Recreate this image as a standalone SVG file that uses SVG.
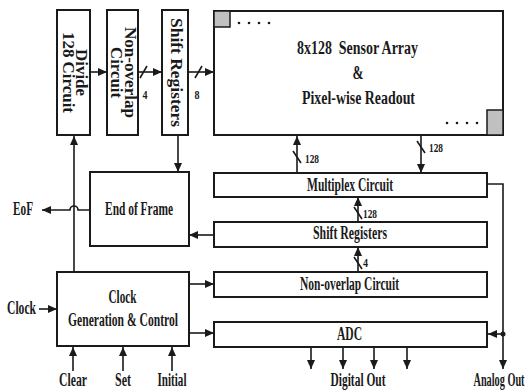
<svg xmlns="http://www.w3.org/2000/svg" width="532" height="392" viewBox="0 0 532 392">
<style>
.box{fill:#fff;stroke:#1a1a1a;stroke-width:2}
.ln{fill:none;stroke:#1a1a1a;stroke-width:1.6}
.arr{marker-end:url(#ah)}
text{font-family:"Liberation Serif","Times New Roman",serif;font-weight:bold;fill:#1a1a1a}
.t{font-size:18.5px;text-anchor:middle}
.v{font-size:16px;text-anchor:middle}
.s{font-size:13px}
.g{fill:#c0c0c0;stroke:#1a1a1a;stroke-width:1.5}
</style>
<defs>
<marker id="ah" markerUnits="userSpaceOnUse" markerWidth="10" markerHeight="8" refX="9" refY="4" orient="auto">
<path d="M0,0 L9,4 L0,8 Z" fill="#1a1a1a"/>
</marker>
</defs>
<g id="connectors">
<path class="ln arr" d="M90,72 H107"/>
<path class="ln arr" d="M138,72 H162"/>
<path class="ln" d="M140,78 L147,66"/>
<path class="ln arr" d="M188,72 H214"/>
<path class="ln" d="M195,78 L202,66"/>
<path class="ln arr" d="M178,135 V172"/>
<path class="ln arr" d="M74,272 V136"/>
<path class="ln arr" d="M90,210 H78 A4,4 0 0 0 70,210 H42"/>
<path class="ln arr" d="M214,235 H189"/>
<path class="ln arr" d="M189,284 H214"/>
<path class="ln arr" d="M189,333 H214"/>
<path class="ln arr" d="M39,309 H57"/>
<path class="ln arr" d="M73,371 V347"/>
<path class="ln arr" d="M123,371 V347"/>
<path class="ln arr" d="M172,371 V347"/>
<path class="ln arr" d="M297,173 V136"/>
<path class="ln" d="M293,151 L301,163"/>
<path class="ln arr" d="M421,136 V173"/>
<path class="ln" d="M417,141 L425,153"/>
<path class="ln arr" d="M358,222 V197"/>
<path class="ln" d="M354,207 L362,219"/>
<path class="ln arr" d="M358,272 V247"/>
<path class="ln" d="M354,257 L362,269"/>
<path class="ln arr" d="M487,184 H503 V369"/>
<circle cx="503" cy="334" r="2.5" fill="#1a1a1a"/>
<path class="ln arr" d="M503,334 H488"/>
<path class="ln arr" d="M311,347 V369"/>
<path class="ln arr" d="M343,347 V369"/>
<path class="ln arr" d="M374,347 V369"/>
<path class="ln arr" d="M407,347 V369"/>
<text class="s" x="145" y="99" text-anchor="middle" textLength="5" lengthAdjust="spacingAndGlyphs">4</text>
<text class="s" x="197" y="99" text-anchor="middle" textLength="5" lengthAdjust="spacingAndGlyphs">8</text>
<text class="s" x="305" y="163" textLength="14" lengthAdjust="spacingAndGlyphs">128</text>
<text class="s" x="429" y="152" textLength="14" lengthAdjust="spacingAndGlyphs">128</text>
<text class="s" x="363" y="218" textLength="14" lengthAdjust="spacingAndGlyphs">128</text>
<text class="s" x="363" y="267" textLength="5" lengthAdjust="spacingAndGlyphs">4</text>
<text class="t" x="23" y="215" textLength="20" lengthAdjust="spacingAndGlyphs">EoF</text>
<text class="t" x="21.5" y="314" textLength="29" lengthAdjust="spacingAndGlyphs">Clock</text>
<text class="t" x="73" y="386" textLength="28" lengthAdjust="spacingAndGlyphs">Clear</text>
<text class="t" x="123" y="386" textLength="16" lengthAdjust="spacingAndGlyphs">Set</text>
<text class="t" x="172" y="386" textLength="29" lengthAdjust="spacingAndGlyphs">Initial</text>
<text class="t" x="358" y="386" textLength="55" lengthAdjust="spacingAndGlyphs">Digital Out</text>
<text class="t" x="499" y="386" font-size="16" textLength="51" lengthAdjust="spacingAndGlyphs">Analog Out</text>
</g>
<g id="divide">
<rect class="box" x="57" y="10" width="33" height="125"/>
<text class="v" transform="translate(76,72.5) rotate(90)" textLength="47" lengthAdjust="spacingAndGlyphs">Divide</text>
<text class="v" transform="translate(63,72.5) rotate(90)" textLength="81" lengthAdjust="spacingAndGlyphs">128 Circuit</text>
</g>
<g id="nonoverlap-v">
<rect class="box" x="107" y="10" width="31" height="125"/>
<text class="v" transform="translate(125,72.5) rotate(90)" textLength="91" lengthAdjust="spacingAndGlyphs">Non-overlap</text>
<text class="v" transform="translate(111,72.5) rotate(90)" textLength="51" lengthAdjust="spacingAndGlyphs">Circuit</text>
</g>
<g id="shift-v">
<rect class="box" x="162" y="10" width="26" height="125"/>
<text class="v" transform="translate(171,72.5) rotate(90)" textLength="109" lengthAdjust="spacingAndGlyphs">Shift Registers</text>
</g>
<g id="sensor">
<rect class="box" x="214" y="11" width="289" height="124"/>
<rect class="g" x="214" y="11" width="16" height="16"/>
<rect class="g" x="487" y="110" width="16" height="25"/>
<g fill="#1a1a1a">
<circle cx="239" cy="23" r="1.3"/><circle cx="249" cy="23" r="1.3"/><circle cx="259" cy="23" r="1.3"/><circle cx="269" cy="23" r="1.3"/>
<circle cx="447" cy="123" r="1.3"/><circle cx="457" cy="123" r="1.3"/><circle cx="467" cy="123" r="1.3"/><circle cx="477" cy="123" r="1.3"/>
</g>
<text class="t" x="357.5" y="54" textLength="121" lengthAdjust="spacingAndGlyphs" xml:space="preserve">8x128  Sensor Array</text>
<text class="t" x="358" y="79" textLength="11" lengthAdjust="spacingAndGlyphs">&amp;</text>
<text class="t" x="358.5" y="104" textLength="113" lengthAdjust="spacingAndGlyphs">Pixel-wise Readout</text>
</g>
<g id="eof">
<rect class="box" x="90" y="172" width="99" height="74"/>
<text class="t" x="139" y="215" textLength="68" lengthAdjust="spacingAndGlyphs">End of Frame</text>
</g>
<g id="clockgen">
<rect class="box" x="57" y="272" width="132" height="74"/>
<text class="t" x="122.5" y="303" textLength="28" lengthAdjust="spacingAndGlyphs">Clock</text>
<text class="t" x="123" y="326" textLength="110" lengthAdjust="spacingAndGlyphs">Generation &amp; Control</text>
</g>
<g id="mux">
<rect class="box" x="214" y="173" width="273" height="24"/>
<text class="t" x="350" y="191" textLength="86" lengthAdjust="spacingAndGlyphs">Multiplex Circuit</text>
</g>
<g id="shift-h">
<rect class="box" x="214" y="222" width="273" height="25"/>
<text class="t" x="350" y="239" textLength="74" lengthAdjust="spacingAndGlyphs">Shift Registers</text>
</g>
<g id="nonoverlap-h">
<rect class="box" x="214" y="272" width="273" height="25"/>
<text class="t" x="349.5" y="290" textLength="99" lengthAdjust="spacingAndGlyphs">Non-overlap Circuit</text>
</g>
<g id="adc">
<rect class="box" x="214" y="322" width="273" height="25"/>
<text class="t" x="349.5" y="340" textLength="25" lengthAdjust="spacingAndGlyphs">ADC</text>
</g>
</svg>
